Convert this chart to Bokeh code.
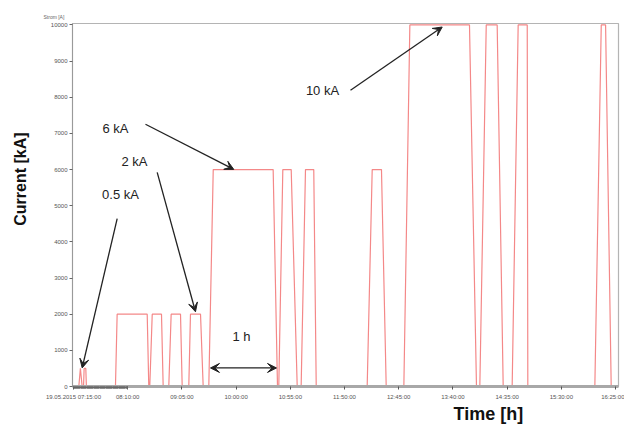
import datetime as dt
from bokeh.plotting import figure
from bokeh.layouts import row
from bokeh.models import (Range1d, FixedTicker, CustomJSTickFormatter, Label, Arrow,
                          VeeHead, ColumnDataSource, Title)
from bokeh.embed import file_html
from bokeh.resources import INLINE

# ---- data (minutes after 19.05.2015 07:15:00, current in A) ----
start_time = "2015-05-19 07:15:00"
minutes = [0, 5.4, 7.0, 8.8, 10.2, 10.8, 12.5, 13.1,
           42.6, 44.3, 74.8, 76.4,
           77.4, 79.9, 89.3, 91.0,
           96.7, 99.1, 108.6, 110.3,
           117.0, 118.7, 128.9, 131.6,
           137.3, 141.8, 202.6, 207.0,
           208.3, 212.4, 220.9, 227.0,
           231.0, 235.4, 243.8, 246.3,
           298.0, 303.1, 312.5, 317.3,
           335.2, 341.3, 401.8, 408.9,
           412.3, 418.8, 429.9, 436.0,
           445.1, 451.2, 460.4, 461.0,
           529.0, 535.5, 539.9, 545.6,
           553.0]
current_a = [0, 0, 500, 0, 0, 500, 500, 0,
             0, 2000, 2000, 0,
             0, 2000, 2000, 0,
             0, 2000, 2000, 0,
             0, 2000, 2000, 0,
             0, 6000, 6000, 0,
             0, 6000, 6000, 0,
             0, 6000, 6000, 0,
             0, 6000, 6000, 0,
             0, 10000, 10000, 0,
             0, 10000, 10000, 0,
             0, 10000, 10000, 0,
             0, 10000, 10000, 0,
             0]
y_ticks = [0, 1000, 2000, 3000, 4000, 5000, 6000, 7000, 8000, 9000, 10000]
x_tick_minutes = [0, 55, 110, 165, 220, 275, 330, 385, 440, 495, 550]

t0 = dt.datetime.strptime(start_time, "%Y-%m-%d %H:%M:%S")
EPOCH = dt.datetime(1970, 1, 1)


def ms(m):
    return ((t0 + dt.timedelta(minutes=m)) - EPOCH).total_seconds() * 1000.0


src = ColumnDataSource(dict(t=[t0 + dt.timedelta(minutes=m) for m in minutes], i=current_a))

LEFT_W = 30

# narrow strip holding the rotated y-axis title
side = figure(width=LEFT_W, height=427, output_backend="svg", toolbar_location=None,
              x_range=Range1d(0, LEFT_W), y_range=Range1d(0, 427),
              min_border_left=0, min_border_right=0, min_border_top=0, min_border_bottom=0)
side.axis.visible = False
side.grid.visible = False
side.outline_line_color = None
side.background_fill_color = "white"
side.border_fill_color = "white"
side.add_layout(Label(x=20, y=427 - 183, text="Current [kA]", text_font="Liberation Sans",
                      text_font_size="16px", text_font_style="bold", text_color="#111111",
                      angle=90, angle_units="deg", text_align="center",
                      text_baseline="middle"))

p = figure(width=624 - LEFT_W, height=427, output_backend="svg", toolbar_location=None,
           x_axis_type="datetime",
           x_range=Range1d(ms(-1), ms(553)), y_range=Range1d(0, 10040),
           min_border_left=72 - LEFT_W, min_border_right=6, min_border_top=23,
           min_border_bottom=41)
p.background_fill_color = "white"
p.border_fill_color = "white"
p.outline_line_color = "#b4b4b4"
p.outline_line_width = 1.2
p.xgrid.visible = False
p.ygrid.visible = False

p.line("t", "i", source=src, line_color="#f48888", line_width=1.2)

# axes
minor = [ms(m / 10 * 5.5) for m in range(0, 101)]
p.xaxis.ticker = FixedTicker(ticks=[ms(m) for m in x_tick_minutes], minor_ticks=minor)
p.xaxis.formatter = CustomJSTickFormatter(args=dict(t0=ms(0)), code="""
const d = new Date(tick);
const f = (n) => String(n).padStart(2, '0');
const s = f(d.getUTCHours()) + ':' + f(d.getUTCMinutes()) + ':' + f(d.getUTCSeconds());
return Math.abs(tick - t0) < 1000 ? '19.05.2015 ' + s : s;
""")
p.xaxis.axis_line_color = "#a8a8a8"
p.xaxis.axis_line_width = 3
p.xaxis.major_tick_line_color = "#555555"
p.xaxis.minor_tick_line_color = "#666666"
p.xaxis.major_tick_out = 3
p.xaxis.major_tick_in = 0
p.xaxis.minor_tick_out = 2
p.xaxis.minor_tick_in = 0
p.xaxis.major_label_text_font = "Liberation Sans"
p.xaxis.major_label_text_font_size = "6px"
p.xaxis.major_label_text_color = "#555555"
p.xaxis.major_label_standoff = 4

p.yaxis.ticker = FixedTicker(ticks=y_ticks, minor_ticks=[])
p.yaxis.axis_line_color = "#9a9a9a"
p.yaxis.axis_line_width = 1
p.yaxis.major_tick_line_color = "#666666"
p.yaxis.major_tick_out = 3
p.yaxis.major_tick_in = 0
p.yaxis.major_label_text_font = "Liberation Sans"
p.yaxis.major_label_text_font_size = "6px"
p.yaxis.major_label_text_color = "#555555"
p.yaxis.major_label_standoff = 2

# x-axis title and small unit label (as panel titles so they are not clipped)
p.add_layout(Title(text="Time [h]", text_font="Liberation Sans", text_font_size="18px",
                   text_font_style="bold", text_color="#111111", align="left",
                   vertical_align="top", offset=381, standoff=3), "below")
p.add_layout(Title(text="Strom [A]", text_font="Liberation Sans", text_font_size="5px",
                   text_font_style="normal", text_color="#666666", align="left",
                   offset=-29, standoff=8), "above")


def X(px):
    return ms((px - 73) / 0.9855)


def Y(py):
    return (385.5 - py) / 0.0362 * 1.004


# annotations
notes = [("0.5 kA", 120, 194), ("2 kA", 134, 161), ("6 kA", 115, 128),
         ("10 kA", 322, 90), ("1 h", 241, 336)]
for txt, px, py in notes:
    p.add_layout(Label(x=X(px), y=Y(py), text=txt, text_font="Liberation Sans",
                       text_font_size="13px", text_color="#222222",
                       text_align="center", text_baseline="middle"))

arrows = [(116.7, 218, 81.7, 367), (156.7, 172, 195, 311),
          (145, 124, 233.3, 169), (350, 90, 441.7, 27)]
for x0, y0, x1, y1 in arrows:
    p.add_layout(Arrow(x_start=X(x0), y_start=Y(y0), x_end=X(x1), y_end=Y(y1),
                       line_color="#222222", line_width=1.3,
                       end=VeeHead(size=9, fill_color="#222222", line_color="#222222")))
p.add_layout(Arrow(x_start=X(210), y_start=Y(367), x_end=X(276), y_end=Y(367),
                   line_color="#222222", line_width=1.3,
                   start=VeeHead(size=9, fill_color="#222222", line_color="#222222"),
                   end=VeeHead(size=9, fill_color="#222222", line_color="#222222")))

layout = row(side, p, spacing=0)
open("out.html", "w").write(file_html(layout, INLINE))
